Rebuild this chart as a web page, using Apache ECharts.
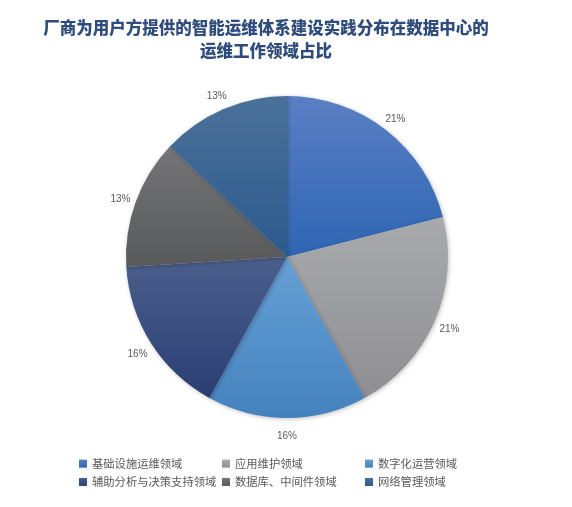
<!DOCTYPE html>
<html><head><meta charset="utf-8">
<script src="https://cdn.jsdelivr.net/npm/echarts@6/dist/echarts.min.js"></script>
<style>html,body{margin:0;padding:0;background:#fff}#c{width:572px;height:507px}</style>
</head><body><div id="c"></div>
<script>
const categories = ['基础设施运维领域','应用维护领域','数字化运营领域','辅助分析与决策支持领域','数据库、中间件领域','网络管理领域'];
const values = [21, 21, 16, 16, 13, 13];
const topColors = ['#5a7fc3','#a9aaad','#66a0d5','#4b5f8d','#757577','#4b7199'];
const bottomColors = ['#2e66b4','#8f8f93','#4482be','#2a3e73','#58595b','#2b5a8d'];
const legendColors = ['#3a6fbd','#9c9da0','#5593cb','#34467c','#646466','#336391'];
const titleText = '厂商为用户方提供的智能运维体系建设实践分布在数据中心的\n运维工作领域占比';

const data = categories.map((n,i)=>({
  name:n, value:values[i],
  itemStyle:{color:new echarts.graphic.LinearGradient(0,0,0,1,[{offset:0,color:topColors[i]},{offset:1,color:bottomColors[i]}])}
}));
const labelData = categories.map((n,i)=>({name:n, value:values[i]}));
const legendBase = {orient:'vertical', top:453, itemWidth:8, itemHeight:8, itemGap:7, icon:'rect',
  textStyle:{color:'#595959', fontSize:11.3, fontFamily:'Noto Sans CJK SC'}};
const chart = echarts.init(document.getElementById('c'));
chart.setOption({
  animation:false,
  color: legendColors,
  title:{text:titleText, left:261, top:11, textAlign:'center',
    textStyle:{color:'#2e4c7c', fontSize:16.5, fontWeight:900, lineHeight:23, fontFamily:'Noto Sans CJK SC'}},
  legend:[
    Object.assign({}, legendBase, {left:74, data:[categories[0],categories[3]]}),
    Object.assign({}, legendBase, {left:217, data:[categories[1],categories[4]]}),
    Object.assign({}, legendBase, {left:360, data:[categories[2],categories[5]]})
  ],
  series:[{
    type:'pie', center:[287,257], radius:161, startAngle:90, clockwise:true,
    label:{show:false}, labelLine:{show:false},
    itemStyle:{shadowBlur:4, shadowColor:'rgba(0,0,0,0.25)', shadowOffsetX:1, shadowOffsetY:1},
    emphasis:{disabled:true},
    data:data
  },{
    type:'pie', center:[287,259], radius:[166,182], startAngle:90, clockwise:true, silent:true,
    label:{show:true, position:'inside', formatter:'{d}%', color:'#595959', fontSize:10, fontFamily:'Liberation Sans'},
    labelLine:{show:false},
    itemStyle:{color:'rgba(0,0,0,0)'},
    emphasis:{disabled:true},
    data:labelData
  }]
});
</script></body></html>
